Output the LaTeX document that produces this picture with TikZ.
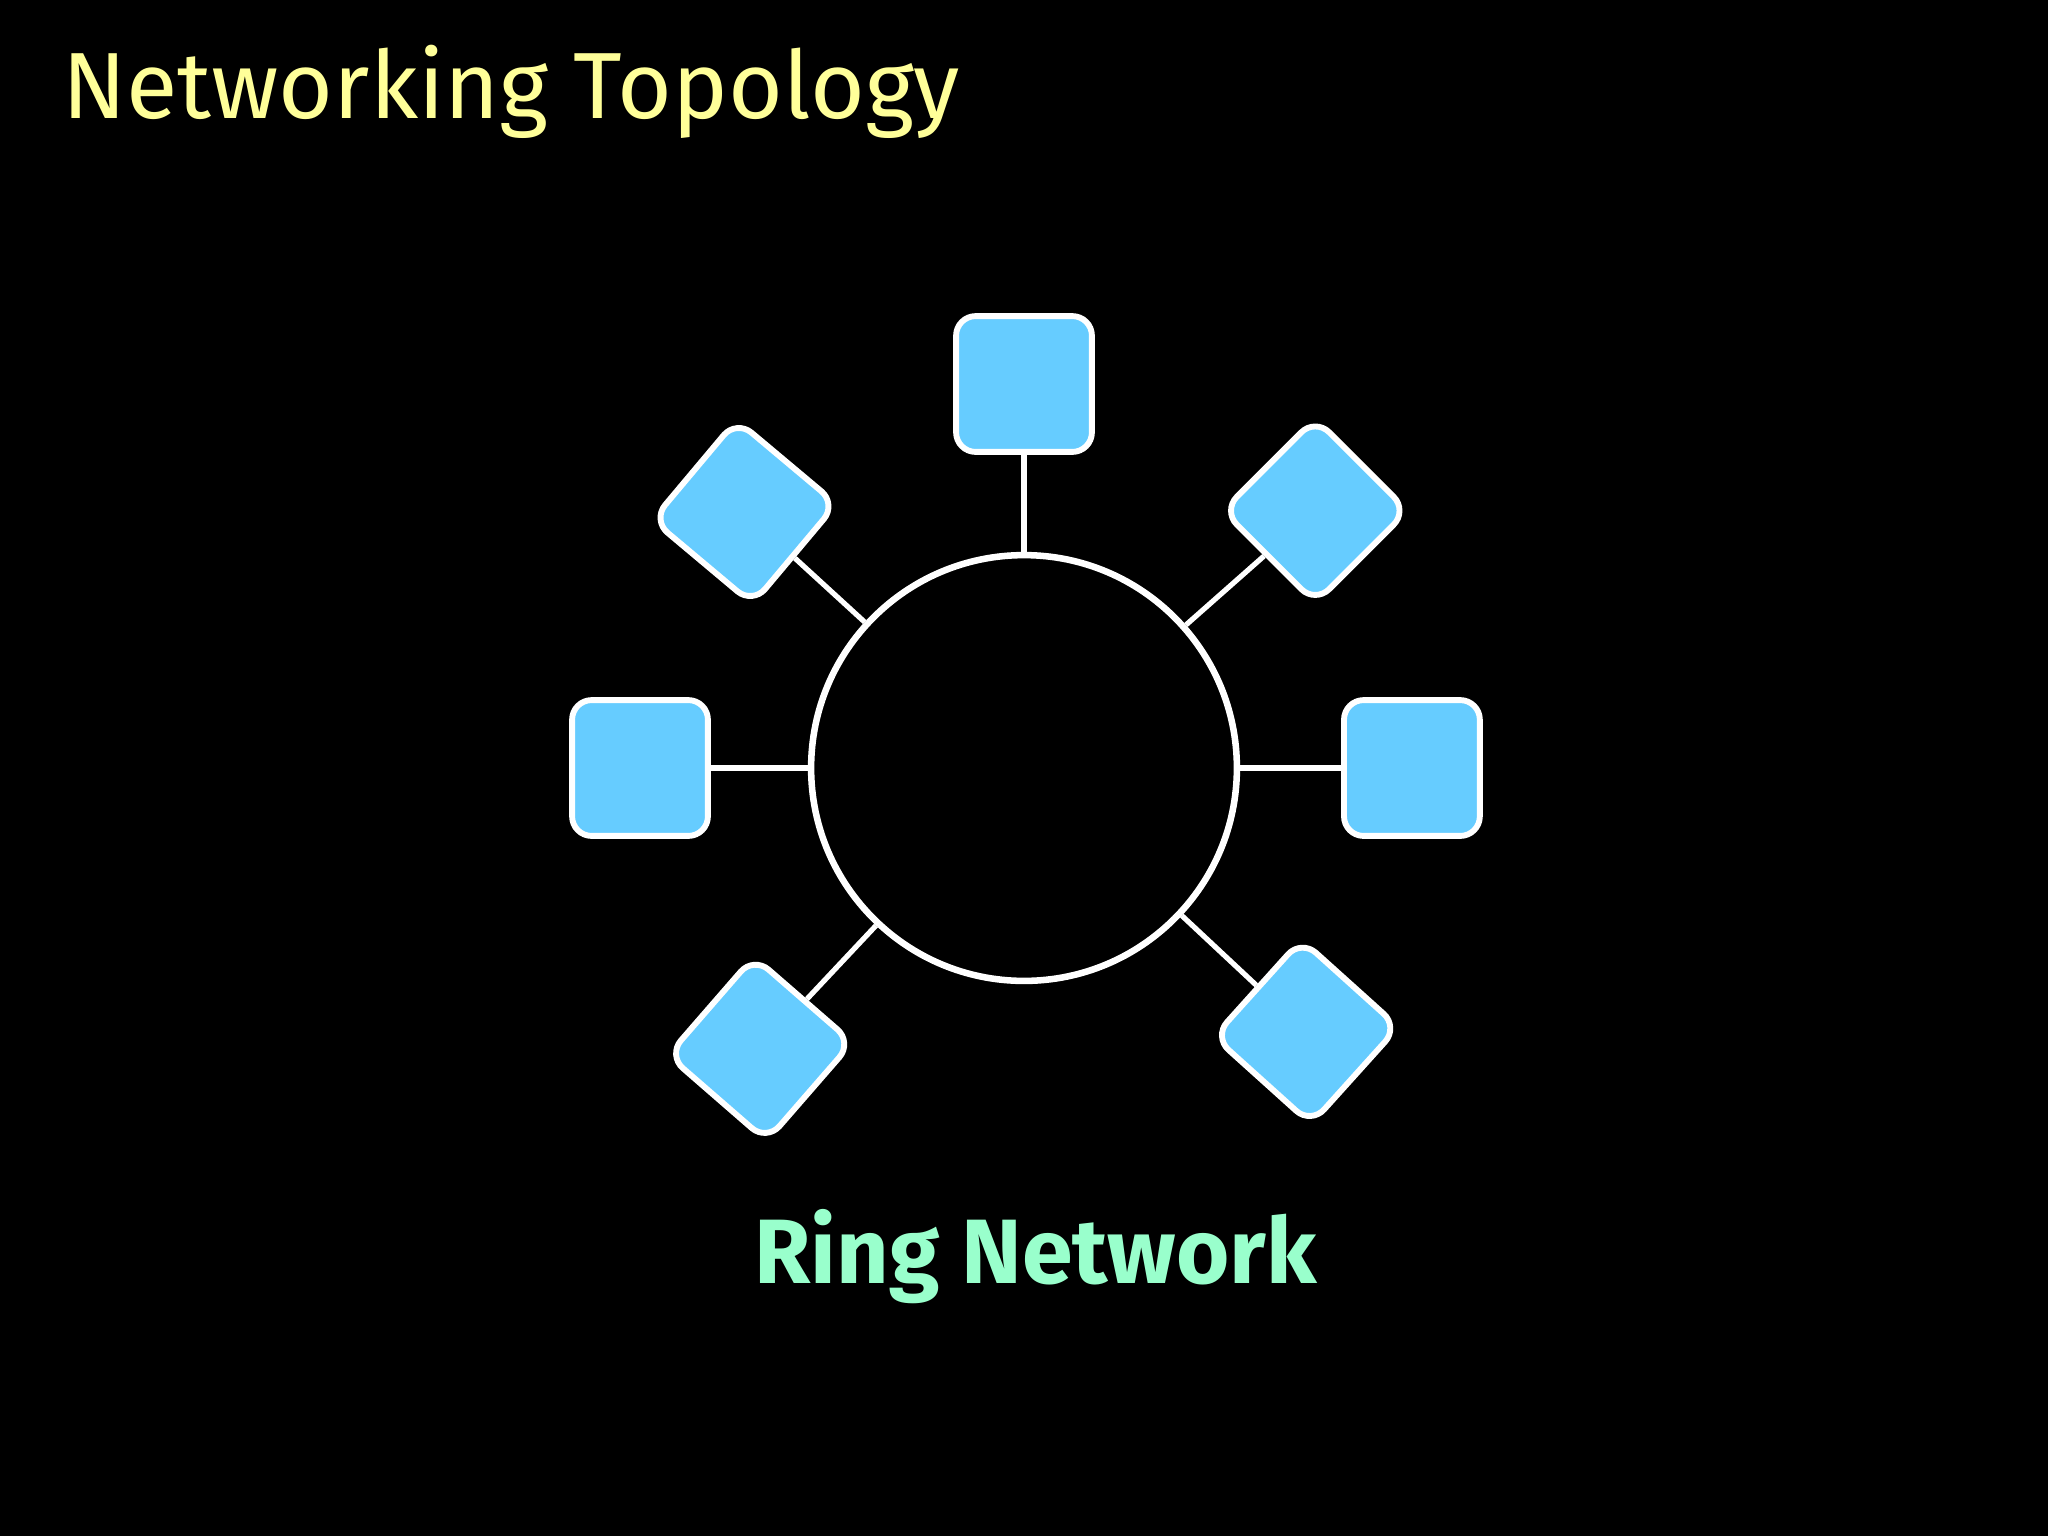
\documentclass[tikz,border=0pt]{standalone}
\usepackage{fontspec}
\setmainfont{Fira Sans}
\begin{document}
\begin{tikzpicture}[x=1pt,y=-1pt,
  dev/.style={draw=white,line width=4.5pt,fill=devblue,rounded corners=15pt,minimum size=104pt,inner sep=0pt},
  link/.style={draw=white,line width=4pt}]
\definecolor{devblue}{HTML}{66CCFF}
\definecolor{ttl}{HTML}{FFFF99}
\definecolor{grn}{HTML}{99FFCC}
\fill[black] (0,0) rectangle (1568,1176);
\useasboundingbox (0,0) rectangle (1568,1176);
\node[anchor=west,text=ttl,font=\fontsize{72}{80}\selectfont] (title) at (44,70) {Networking Topology};
\node[draw=white,line width=5pt,circle,minimum size=326pt,inner sep=0pt] (ring) at (784,588) {};
\node[dev] (t) at (784,294) {};
\node[dev] (l) at (490,588) {};
\node[dev] (r) at (1081,588) {};
\node[dev,minimum size=100pt,rotate=-40] (ul) at (570,392) {};
\node[dev,minimum size=100pt,rotate=45] (ur) at (1007,391) {};
\node[dev,minimum size=100pt,rotate=-41] (ll) at (582,803) {};
\node[dev,minimum size=100pt,rotate=-42] (lr) at (1000,790) {};
\foreach \n in {t,l,r,ul,ur,ll,lr} \draw[link] (ring) -- (\n);
\node[text=grn,font=\bfseries\fontsize{70}{80}\selectfont] (cap) at (793,962) {Ring Network};
\end{tikzpicture}
\end{document}
